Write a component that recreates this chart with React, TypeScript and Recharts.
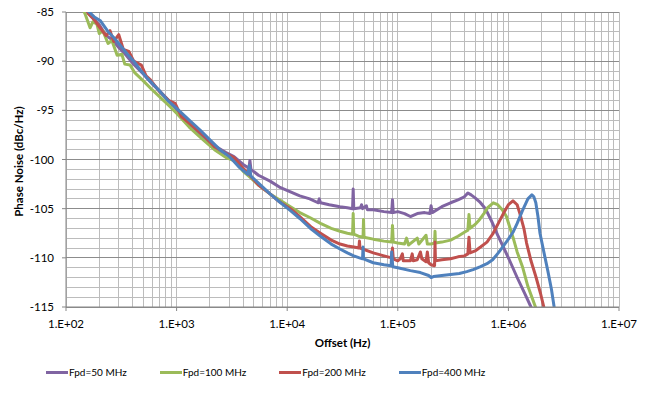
import React from "react";
import {
  LineChart,
  Line,
  XAxis,
  YAxis,
  CartesianGrid,
  Legend,
  Label,
} from "recharts";

// offset frequency (Hz) and phase noise (dBc/Hz)
const freq50 = [
  140, 150, 170, 200, 230, 260, 300, 350, 400, 500, 600, 700, 850, 1000, 1300,
  1700, 2200, 2800, 3300, 4000, 4500, 4600, 4700, 5500, 7000, 8500, 10700,
  13000, 16000, 19000, 19500, 20000, 24000, 30000, 35000, 39000, 39500, 40000,
  46000, 47000, 48000, 52000, 53000, 60000, 75000, 88000, 89500, 91000, 100000,
  115000, 130000, 150000, 175000, 195000, 200000, 205000, 250000, 300000,
  350000, 400000, 430000, 460000, 500000, 550000, 620000, 700000, 800000,
  900000, 1000000, 1200000, 1400000, 1600000, 1800000,
];
const pn50 = [
  -84.2, -84.8, -85.5, -86.3, -87.4, -87.8, -88.6, -89.4, -90.2, -91.3, -92.3,
  -93.0, -94.0, -94.9, -96.5, -97.6, -98.6, -99.3, -99.7, -100.5, -100.9,
  -100.1, -101.0, -101.6, -102.2, -102.8, -103.3, -103.7, -104.0, -104.4,
  -104.0, -104.4, -104.6, -104.8, -104.9, -105.0, -103.0, -105.0, -104.9,
  -104.6, -105.0, -104.7, -105.1, -105.1, -105.3, -105.4, -104.1, -105.4,
  -105.3, -105.5, -105.8, -105.5, -105.4, -105.5, -104.7, -105.4, -104.8,
  -104.4, -104.1, -103.8, -103.4, -103.6, -103.9, -104.3, -105.0, -106.2,
  -107.7, -108.9, -110.0, -112.0, -113.6, -115.0, -116.2,
];

const freq100 = [
  140, 150, 165, 175, 190, 200, 215, 240, 260, 290, 320, 340, 380, 420, 500,
  600, 700, 850, 1000, 1300, 1700, 2200, 2800, 3300, 4000, 4600, 5500, 7000,
  8500, 10700, 13000, 16000, 20000, 25000, 30000, 35000, 39000, 39500, 40000,
  44000, 48500, 49000, 49500, 60000, 75000, 88000, 89500, 91000, 100000,
  115000, 120000, 125000, 150000, 155000, 180000, 185000, 200000, 215000,
  217000, 219000, 250000, 300000, 350000, 400000, 430000, 440000, 450000,
  500000, 550000, 600000, 650000, 730000, 800000, 880000, 960000, 1050000,
  1100000, 1200000, 1340000, 1500000, 1770000, 1900000,
];
const pn100 = [
  -84.5, -85.3, -86.6, -86.0, -86.2, -87.2, -86.9, -88.2, -87.9, -89.4, -89.3,
  -90.3, -90.4, -91.2, -92.0, -92.9, -93.6, -94.5, -95.3, -96.7, -97.9, -99.0,
  -99.8, -100.1, -101.2, -101.8, -102.6, -103.5, -104.1, -104.8, -105.4,
  -105.9, -106.5, -107.0, -107.3, -107.5, -107.6, -105.5, -107.6, -107.8,
  -107.9, -106.1, -107.9, -108.1, -108.3, -108.4, -106.7, -108.4, -108.5,
  -108.6, -108.0, -108.7, -108.0, -108.6, -107.7, -108.6, -108.6, -108.5,
  -107.3, -108.5, -108.4, -108.2, -107.8, -107.4, -107.2, -105.6, -107.0,
  -106.6, -106.1, -105.5, -104.9, -104.4, -104.6, -105.1, -105.8, -107.2,
  -107.9, -109.4, -110.9, -112.9, -115.1, -116.0,
];

const freq200 = [
  140, 160, 175, 200, 230, 250, 270, 300, 330, 370, 410, 480, 530, 580, 700,
  850, 970, 1100, 1400, 1850, 2200, 2800, 3300, 4000, 4600, 5500, 7000, 8500,
  10700, 13000, 16600, 20000, 25000, 30000, 35000, 40000, 44500, 45000, 45500,
  60000, 75000, 88000, 89500, 91000, 100000, 105000, 110000, 112000, 130000,
  135000, 138000, 150000, 160000, 165000, 180000, 185000, 190000, 200000,
  215000, 217000, 219000, 250000, 300000, 350000, 400000, 430000, 440000,
  450000, 500000, 560000, 640000, 720000, 810000, 900000, 1000000, 1100000,
  1200000, 1270000, 1380000, 1460000, 1600000, 1770000, 1950000, 2100000,
  2300000,
];
const pn200 = [
  -83.8, -85.2, -85.6, -86.5, -87.4, -86.9, -88.0, -87.3, -88.8, -89.0, -90.0,
  -90.4, -91.5, -91.9, -93.1, -94.0, -94.3, -95.6, -96.6, -97.8, -98.7, -99.4,
  -99.8, -100.9, -101.6, -102.6, -103.5, -104.3, -105.0, -105.8, -106.9,
  -107.5, -108.2, -108.6, -108.8, -108.9, -109.0, -108.3, -109.0, -109.5,
  -109.8, -110.0, -109.0, -110.1, -110.3, -110.1, -109.6, -110.3, -110.3,
  -109.6, -110.3, -110.2, -109.4, -110.1, -110.4, -109.4, -110.5, -110.7,
  -110.8, -108.4, -110.3, -110.2, -110.1, -109.9, -109.8, -109.6, -107.9,
  -109.5, -109.3, -108.9, -108.4, -107.6, -106.5, -105.5, -104.6, -104.2,
  -104.6, -105.5, -107.0, -108.5, -110.3, -111.9, -113.6, -115.1, -116.5,
];

const freq400 = [
  140, 155, 180, 205, 240, 270, 310, 360, 410, 470, 550, 620, 710, 850, 1000,
  1300, 1630, 2000, 2460, 3000, 3700, 4400, 4550, 4700, 5500, 7000, 8500,
  10700, 13000, 16600, 20000, 25000, 30000, 35000, 40000, 45000, 48000, 48500,
  49000, 60000, 75000, 87000, 88000, 90000, 100000, 130000, 160000, 190000,
  200000, 210000, 250000, 300000, 360000, 420000, 480000, 560000, 640000,
  720000, 810000, 900000, 1000000, 1100000, 1200000, 1340000, 1500000,
  1630000, 1700000, 1770000, 1850000, 1930000, 2100000, 2270000, 2450000,
  2600000, 2800000,
];
const pn400 = [
  -83.9, -84.8, -85.5, -85.9, -87.0, -87.6, -88.4, -89.3, -90.0, -90.9, -91.8,
  -92.4, -93.1, -94.1, -94.8, -96.0, -97.0, -98.0, -99.0, -99.7, -100.8,
  -101.5, -100.6, -101.7, -102.4, -103.5, -104.3, -105.2, -106.0, -107.1,
  -107.8, -108.6, -109.1, -109.5, -109.8, -110.0, -110.1, -108.9, -110.1,
  -110.5, -110.7, -110.8, -109.4, -110.9, -111.0, -111.3, -111.5, -111.8,
  -112.0, -111.9, -111.8, -111.7, -111.6, -111.4, -111.2, -110.9, -110.6,
  -110.2, -109.5, -108.8, -108.1, -107.4, -106.5, -105.2, -104.0, -103.6,
  -103.8, -104.4, -105.8, -107.5, -109.5, -111.3, -113.2, -115.1, -116.5,
];

const seriesNames = ["Fpd=50 MHz", "Fpd=100 MHz", "Fpd=200 MHz", "Fpd=400 MHz"];
const seriesColors = ["#8064A2", "#9BBB59", "#C0504D", "#4F81BD"];
const seriesFreqs = [freq50, freq100, freq200, freq400];
const seriesValues = [pn50, pn100, pn200, pn400];

const xTicks = [1e2, 1e3, 1e4, 1e5, 1e6, 1e7];
const xTickLabels = ["1.E+02", "1.E+03", "1.E+04", "1.E+05", "1.E+06", "1.E+07"];
const yTicks = [-115, -110, -105, -100, -95, -90, -85];

// grid: every 1 dB, and 1..9 inside each decade
const yGrid: number[] = [];
for (let v = -115; v <= -85; v++) yGrid.push(v);
const xGrid: number[] = [];
for (let d = 2; d < 7; d++) for (let m = 1; m < 10; m++) xGrid.push(m * Math.pow(10, d));
xGrid.push(1e7);

const X_DOMAIN = [100, 1e7];
const Y_DOMAIN = [-115, -85];

const FONT = "Lato, 'Liberation Sans', sans-serif";

// map values through the axis scale, fall back to the plot box if the scale isn't exposed
const gridX = ({ xAxis, offset }: any, vals: number[]) => {
  const s = xAxis?.scale;
  if (typeof s === "function") return vals.map((v) => s(v));
  if (s && typeof s.map === "function") return vals.map((v) => s.map(v));
  const lo = Math.log10(X_DOMAIN[0]);
  const hi = Math.log10(X_DOMAIN[1]);
  return vals.map((v) => offset.left + (offset.width * (Math.log10(v) - lo)) / (hi - lo));
};
const gridY = ({ yAxis, offset }: any, vals: number[]) => {
  const s = yAxis?.scale;
  if (typeof s === "function") return vals.map((v) => s(v));
  if (s && typeof s.map === "function") return vals.map((v) => s.map(v));
  return vals.map(
    (v) => offset.top + (offset.height * (Y_DOMAIN[1] - v)) / (Y_DOMAIN[1] - Y_DOMAIN[0])
  );
};

const renderLegend = () => (
  <div style={{ display: "flex", alignItems: "center", fontFamily: FONT, fontSize: 10, color: "#000" }}>
    {seriesNames.map((name, i) => (
      <div key={name} style={{ display: "flex", alignItems: "center", marginRight: 33 }}>
        <div style={{ width: 22, height: 3, background: seriesColors[i], marginRight: 1 }} />
        <span>{name}</span>
      </div>
    ))}
  </div>
);

const App = () => {
  return (
    <div style={{ position: "absolute", left: 0, top: 0, width: 652, height: 398, background: "#fff" }}>
      <LineChart width={652} height={398} margin={{ top: 12, right: 33, left: 9, bottom: 46 }}>
        <CartesianGrid
          stroke="#BCBCBC"
          shapeRendering="crispEdges"
          horizontalCoordinatesGenerator={(p: any) => gridY(p, yGrid)}
          verticalCoordinatesGenerator={(p: any) => gridX(p, xGrid)}
        />
        <CartesianGrid
          stroke="#8C8C8C"
          shapeRendering="crispEdges"
          vertical={false}
          horizontalCoordinatesGenerator={(p: any) => gridY(p, yTicks)}
        />
        <XAxis
          dataKey="f"
          type="number"
          scale="log"
          domain={X_DOMAIN}
          ticks={xTicks}
          interval={0}
          allowDataOverflow
          tickFormatter={(v: number) => xTickLabels[xTicks.indexOf(v)] ?? ""}
          stroke="#868686"
          tickSize={4}
          tickMargin={9}
          tick={{ fill: "#000", fontSize: 11.5, fontFamily: FONT }}
          height={45}
        >
          <Label
            content={({ viewBox }: any) => (
              <text
                x={viewBox.x + viewBox.width / 2}
                y={viewBox.y + 40}
                textAnchor="middle"
                fontFamily={FONT}
                fontSize={11.5}
                fontWeight="bold"
                fill="#000"
              >
                Offset (Hz)
              </text>
            )}
          />
        </XAxis>
        <YAxis
          type="number"
          domain={Y_DOMAIN}
          ticks={yTicks}
          interval={0}
          allowDataOverflow
          stroke="#868686"
          tickSize={4}
          tickMargin={8}
          tick={{ fill: "#000", fontSize: 11.5, fontFamily: FONT }}
          width={57}
        >
          <Label
            content={({ viewBox }: any) => {
              const cx = 18;
              const cy = viewBox.y + viewBox.height / 2 + 2;
              return (
                <text
                  x={cx}
                  y={cy}
                  transform={`rotate(-90 ${cx} ${cy})`}
                  textAnchor="middle"
                  dominantBaseline="central"
                  fontFamily={FONT}
                  fontSize={11.5}
                  fontWeight="bold"
                  fill="#000"
                >
                  Phase Noise (dBc/Hz)
                </text>
              );
            }}
          />
        </YAxis>
        {seriesNames.map((name, i) => (
          <Line
            key={name}
            name={name}
            data={seriesFreqs[i].map((f, j) => ({ f, v: seriesValues[i][j] }))}
            dataKey="v"
            type="linear"
            stroke={seriesColors[i]}
            strokeWidth={3}
            strokeLinejoin="round"
            dot={false}
            activeDot={false}
            isAnimationActive={false}
          />
        ))}
        <Legend
          layout="horizontal"
          verticalAlign="middle"
          align="center"
          content={renderLegend}
          wrapperStyle={{ left: 46, top: 366, width: 560, height: 14 }}
        />
      </LineChart>
    </div>
  );
};

export default App;
